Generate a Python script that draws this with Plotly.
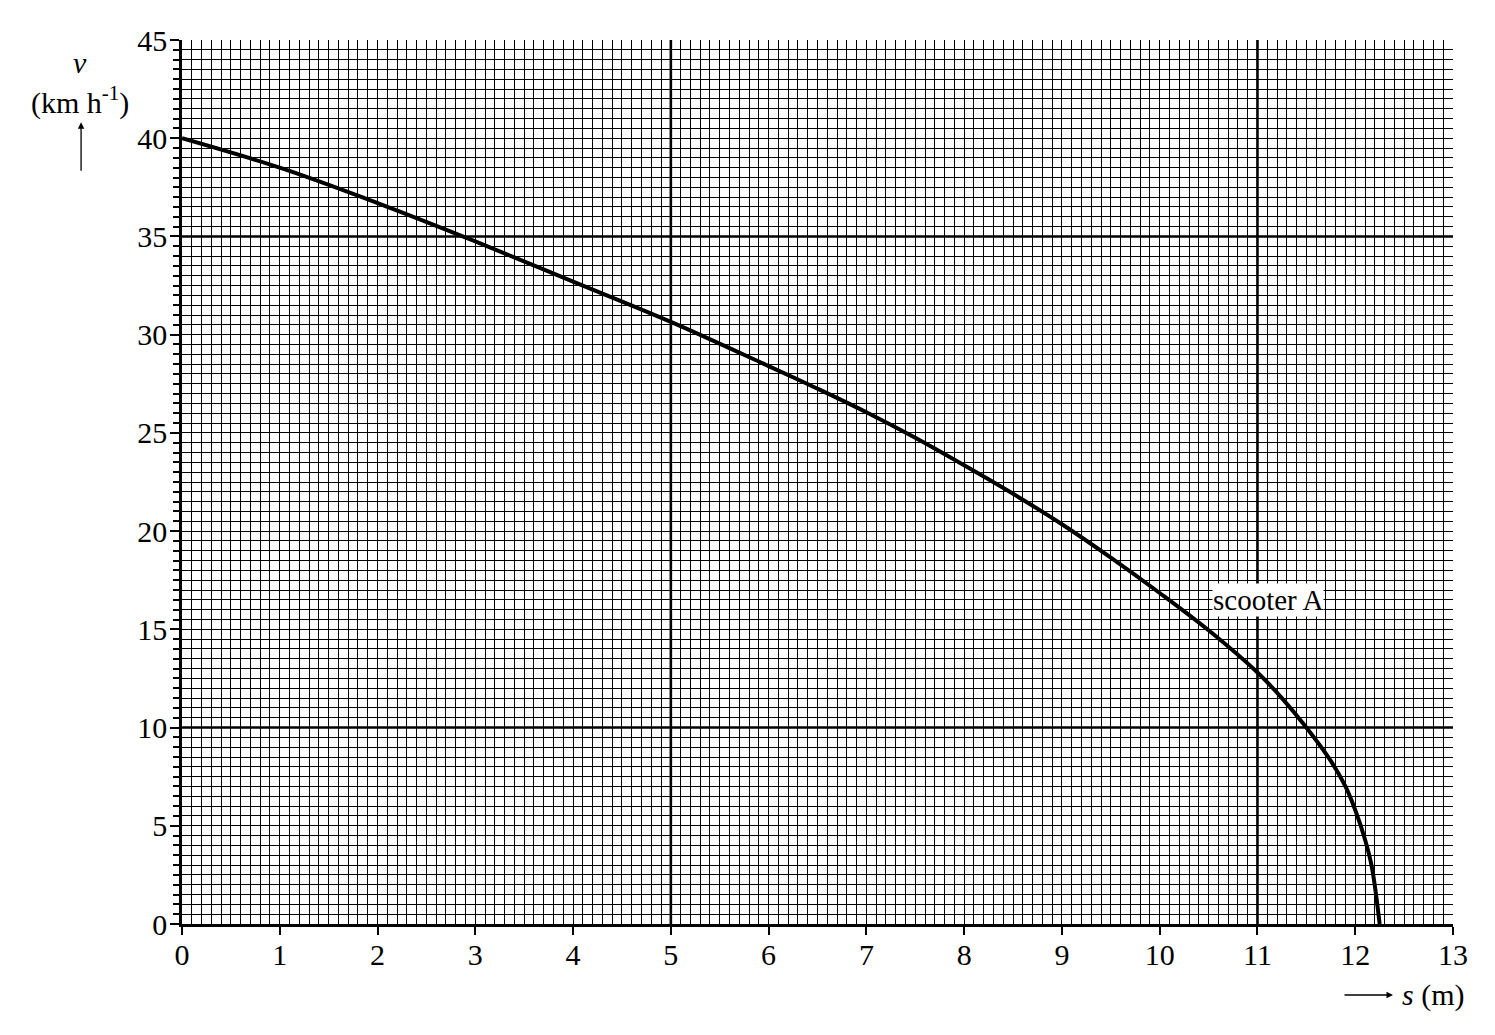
import plotly.graph_objects as go

# distance s (m) and speed v (km/h)
s_vals = [0, 1, 2, 3, 4, 5, 6, 6.5, 7, 7.5, 8, 8.5, 9, 9.5, 10, 10.5, 11,
          11.25, 11.5, 11.75, 11.9, 12, 12.1, 12.17, 12.25]
v_vals = [40, 38.5, 36.7, 34.75, 32.7, 30.65, 28.4, 27.25, 26.05, 24.75, 23.35, 21.9, 20.35, 18.65, 16.85, 14.95, 12.8,
          11.5, 10.0, 8.3, 7.0, 5.8, 4.3, 2.9, 0]

x_ticks = list(range(0, 14))
y_ticks = list(range(0, 50, 5))
bold_x = [5, 11]     # heavier graph-paper lines
bold_y = [10, 35]

serif = "Liberation Serif"
fsize = 30

fig = go.Figure()
fig.add_trace(go.Scatter(x=s_vals, y=v_vals, mode='lines', line_shape='spline',
                         line=dict(color='black', width=4), hoverinfo='skip'))

for xb in bold_x:
    fig.add_vline(x=xb, line_color='black', line_width=2.6, layer='below')
for yb in bold_y:
    fig.add_hline(y=yb, line_color='black', line_width=2.6, layer='below')

fig.add_annotation(x=11.11, y=16.5, text='scooter A', showarrow=False,
                   bgcolor='white', borderpad=0,
                   font=dict(family=serif, size=29, color='black'))

# axis labels
fig.add_annotation(xref='paper', yref='paper', x=-0.0802, y=0.975, text='<i>v</i>',
                   xanchor='center', yanchor='middle', showarrow=False,
                   font=dict(family=serif, size=fsize, color='black'))
fig.add_annotation(xref='paper', yref='paper', x=-0.0802, y=0.932, text='(km h<sup>-1</sup>)',
                   xanchor='center', yanchor='middle', showarrow=False,
                   font=dict(family=serif, size=fsize, color='black'))
fig.add_annotation(xref='paper', yref='paper', x=-0.0794, y=0.907, text='',
                   showarrow=True, ax=0, ay=50, arrowhead=2, arrowsize=1, arrowwidth=1.3,
                   arrowcolor='black')
fig.add_annotation(xref='paper', yref='paper', x=0.9528, y=-0.0803, text='',
                   showarrow=True, ax=-50, ay=0, arrowhead=2, arrowsize=1, arrowwidth=1.3,
                   arrowcolor='black')
fig.add_annotation(xref='paper', yref='paper', x=0.9583, y=-0.0803,
                   xanchor='left', yanchor='middle',
                   text='<i>s</i> (m)', showarrow=False,
                   font=dict(family=serif, size=fsize, color='black'))

fig.update_xaxes(range=[0, 13], tickvals=x_ticks, showgrid=True, gridcolor='black', gridwidth=1,
                 minor=dict(dtick=0.1, showgrid=True, gridcolor='black', gridwidth=1),
                 showline=True, linecolor='black', linewidth=2.5, zeroline=False,
                 ticks='outside', ticklen=8, tickwidth=2, tickcolor='black',
                 ticklabelstandoff=-6,
                 tickfont=dict(family=serif, size=fsize, color='black'))
fig.update_yaxes(range=[0, 45], tickvals=y_ticks, showgrid=True, gridcolor='black', gridwidth=1,
                 minor=dict(dtick=0.5, showgrid=True, gridcolor='black', gridwidth=1,
                            ticks='outside', ticklen=6, tickwidth=1.5, tickcolor='black'),
                 showline=True, linecolor='black', linewidth=2.5, zeroline=False,
                 ticks='outside', ticklen=9, tickwidth=2, tickcolor='black',
                 ticklabelstandoff=-3,
                 tickfont=dict(family=serif, size=fsize, color='black'))

# page body has an 8px margin, so the plot box is shifted to line up with the original
fig.update_layout(width=1479, height=1019, showlegend=False,
                  margin=dict(l=174, r=34, t=32, b=103),
                  paper_bgcolor='white', plot_bgcolor='white')

fig.write_html("out.html")
